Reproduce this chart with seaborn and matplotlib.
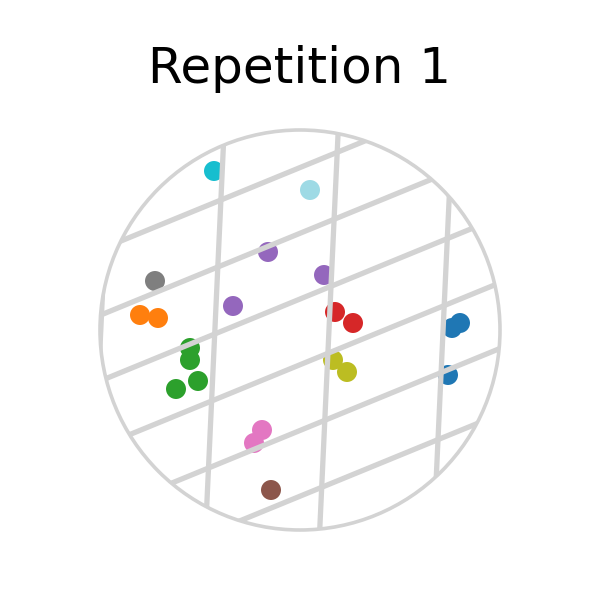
import numpy as np
import pandas as pd
import matplotlib
matplotlib.use("Agg")
import matplotlib.pyplot as plt
import matplotlib.patches as mpatches
import seaborn as sns

# point groups, positions in circle units (centre 0,0, radius 1)
groups = ["blue", "blue", "blue",
          "orange", "orange",
          "green", "green", "green", "green",
          "red", "red",
          "purple", "purple", "purple",
          "brown",
          "pink", "pink",
          "gray",
          "olive", "olive",
          "cyan",
          "lightcyan"]
x_vals = [0.80, 0.76, 0.74,
          -0.80, -0.71,
          -0.55, -0.55, -0.62, -0.51,
          0.175, 0.265,
          -0.16, 0.12, -0.335,
          -0.145,
          -0.19, -0.23,
          -0.725,
          0.165, 0.235,
          -0.43,
          0.05]
y_vals = [0.035, 0.01, -0.225,
          0.075, 0.06,
          -0.09, -0.15, -0.295, -0.255,
          0.09, 0.035,
          0.39, 0.275, 0.12,
          -0.80,
          -0.50, -0.565,
          0.245,
          -0.15, -0.21,
          0.795,
          0.70]

tab20 = sns.color_palette("tab20")
palette = {"blue": tab20[0], "orange": tab20[2], "green": tab20[4], "red": tab20[6],
           "purple": tab20[8], "brown": tab20[10], "pink": tab20[12], "gray": tab20[14],
           "olive": tab20[16], "cyan": tab20[18], "lightcyan": tab20[19]}

df = pd.DataFrame({"x": x_vals, "y": y_vals, "group": groups})

# skewed grid: origin and the two step vectors
origin = np.array([0.155, 0.2185])
step_a = np.array([0.5815, 0.2385])
step_b = np.array([0.0155, 0.335])

fig = plt.figure(figsize=(6, 6), dpi=100)
ax = fig.add_axes([0, 0, 1, 1])
ax.set_xlim(-1.5, 1.5)
ax.set_ylim(-1.35, 1.65)
ax.set_aspect("equal")
ax.axis("off")

sns.scatterplot(data=df, x="x", y="y", hue="group", palette=palette, s=207,
                linewidth=0, legend=False, ax=ax, zorder=2)

clip = mpatches.Circle((0, 0), 1, transform=ax.transData)
t = np.array([-6, 6])
for u in range(-4, 5):
    p = origin + u * step_a
    line, = ax.plot(p[0] + t * step_b[0], p[1] + t * step_b[1], color="lightgray",
                    lw=3.8, solid_capstyle="butt", zorder=3)
    line.set_clip_path(clip)
for v in range(-6, 7):
    p = origin + v * step_b
    line, = ax.plot(p[0] + t * step_a[0], p[1] + t * step_a[1], color="lightgray",
                    lw=3.8, solid_capstyle="butt", zorder=3)
    line.set_clip_path(clip)

ax.add_patch(mpatches.Circle((0, 0), 1, fill=False, edgecolor="lightgray", lw=2.6, zorder=4))

fig.text(0.5, 1 - 83 / 600, "Repetition 1", ha="center", va="baseline", fontsize=36)

fig.savefig("out.png", dpi=100)
